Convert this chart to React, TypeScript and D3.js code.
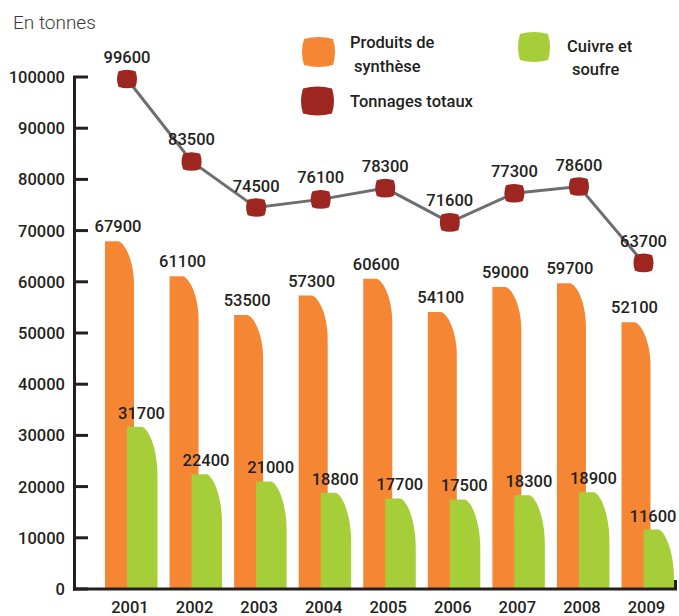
import React from "react";
import * as d3 from "d3";

const years = ["2001", "2002", "2003", "2004", "2005", "2006", "2007", "2008", "2009"];
const produitsSynthese = [67900, 61100, 53500, 57300, 60600, 54100, 59000, 59700, 52100];
const cuivreSoufre = [31700, 22400, 21000, 18800, 17700, 17500, 18300, 18900, 11600];
const tonnagesTotaux = [99600, 83500, 74500, 76100, 78300, 71600, 77300, 78600, 63700];
const yTicks = [0, 10000, 20000, 30000, 40000, 50000, 60000, 70000, 80000, 90000, 100000];

const W = 679;
const H = 616;
const ORANGE = "#f58634";
const GREEN = "#a6ce39";
const RED = "#9e2620";
const GRAY = "#6d6e71";
const INK = "#231f20";
const FONT = "Roboto, 'DejaVu Sans', sans-serif";
const FW = 500;

const y = d3.scaleLinear().domain([0, 100000]).range([589, 77]);
const x = d3.scalePoint<string>().domain(years).range([127, 643.5]);

function barPath(x0: number, w: number, v: number, drop: number, flat: number) {
  const top = y(v);
  const bottom = y(0);
  const mid = x0 + w * flat;
  const right = x0 + w;
  const d = Math.min(drop, bottom - top);
  const p = d3.path();
  p.moveTo(x0, bottom);
  p.lineTo(x0, top);
  p.lineTo(mid, top);
  p.bezierCurveTo(mid + (right - mid) * 0.45, top + d * 0.05, right, top + d * 0.45, right, top + d);
  p.lineTo(right, bottom);
  p.closePath();
  return p.toString();
}

function leaf(cx: number, cy: number, sx: number, sy: number, b: number) {
  const p = d3.path();
  p.moveTo(cx - sx, cy - sy);
  p.quadraticCurveTo(cx, cy - sy - b, cx + sx, cy - sy);
  p.quadraticCurveTo(cx + sx + b, cy, cx + sx, cy + sy);
  p.quadraticCurveTo(cx, cy + sy + b, cx - sx, cy + sy);
  p.quadraticCurveTo(cx - sx - b, cy, cx - sx, cy - sy);
  p.closePath();
  return p.toString();
}

export default function App() {
  const line = d3
    .line<number>()
    .x((_, i) => x(years[i]) as number)
    .y((v) => y(v));

  return (
    <svg
      width={W}
      height={H}
      style={{ position: "absolute", left: 0, top: 0, background: "#fff" }}
      fontFamily={FONT}
    >
      <text x={13} y={29} fontSize={19} fontWeight={300} fill="#3a3a3a">
        En tonnes
      </text>

      {/* bars */}
      {years.map((yr, i) => {
        const c = x(yr) as number;
        return <path key={yr} d={barPath(c - 22, 29, produitsSynthese[i], 44, 0.46)} fill={ORANGE} />;
      })}
      {years.map((yr, i) => {
        const c = x(yr) as number;
        return <path key={yr} d={barPath(c, 30.5, cuivreSoufre[i], 50, 0.5)} fill={GREEN} />;
      })}

      {/* bar labels */}
      {years.map((yr, i) => {
        const c = x(yr) as number;
        return (
          <g key={yr} fontSize={16.5} fontWeight={FW} fill={INK} textAnchor="middle">
            <text x={c - 9} y={y(produitsSynthese[i]) - 9}>
              {produitsSynthese[i]}
            </text>
            <text x={Math.min(c + 14.5, 653)} y={y(cuivreSoufre[i]) - 8}>
              {cuivreSoufre[i]}
            </text>
          </g>
        );
      })}

      {/* axes */}
      <g stroke={INK} strokeWidth={3} fill="none">
        <line x1={74.5} y1={y(100000)} x2={74.5} y2={y(0) + 1.5} />
        <line x1={73} y1={y(0)} x2={677} y2={y(0)} />
        <line x1={675.5} y1={y(0)} x2={675.5} y2={y(0) - 9} />
        {yTicks.map((t) => (
          <line key={t} x1={73} y1={y(t)} x2={88} y2={y(t)} />
        ))}
      </g>
      {yTicks.map((t) => (
        <text
          key={t}
          x={65}
          y={y(t)}
          dy="0.36em"
          textAnchor="end"
          fontSize={16.5}
          fontWeight={FW}
          fill={INK}
        >
          {t}
        </text>
      ))}
      {years.map((yr) => (
        <text
          key={yr}
          x={(x(yr) as number) + 3}
          y={613}
          textAnchor="middle"
          fontSize={16.5}
          fontWeight={FW}
          fill={INK}
        >
          {yr}
        </text>
      ))}

      {/* total line */}
      <path d={line(tonnagesTotaux) || ""} fill="none" stroke={GRAY} strokeWidth={3} />
      {tonnagesTotaux.map((v, i) => {
        const c = x(years[i]) as number;
        return (
          <g key={i}>
            <path d={leaf(c, y(v), 8.5, 7.8, 3)} fill={RED} />
            <text
              x={c}
              y={y(v) - 16}
              textAnchor="middle"
              fontSize={16.5}
              fontWeight={FW}
              fill={INK}
            >
              {v}
            </text>
          </g>
        );
      })}

      {/* legend */}
      <path d={leaf(318.5, 52, 14.5, 13, 4)} fill={ORANGE} />
      <text x={350} y={48} fontSize={16.5} fontWeight={FW} fill={INK}>
        Produits de
      </text>
      <text x={354} y={72} fontSize={16.5} fontWeight={FW} fill={INK}>
        synthèse
      </text>
      <path d={leaf(534, 47, 14, 13, 4)} fill={GREEN} />
      <text x={567} y={52} fontSize={16.5} fontWeight={FW} fill={INK}>
        Cuivre et
      </text>
      <text x={572} y={75} fontSize={16.5} fontWeight={FW} fill={INK}>
        soufre
      </text>
      <path d={leaf(317.5, 101, 14.5, 12.5, 4)} fill={RED} />
      <text x={350} y={107} fontSize={16.5} fontWeight={FW} fill={INK}>
        Tonnages totaux
      </text>
    </svg>
  );
}
